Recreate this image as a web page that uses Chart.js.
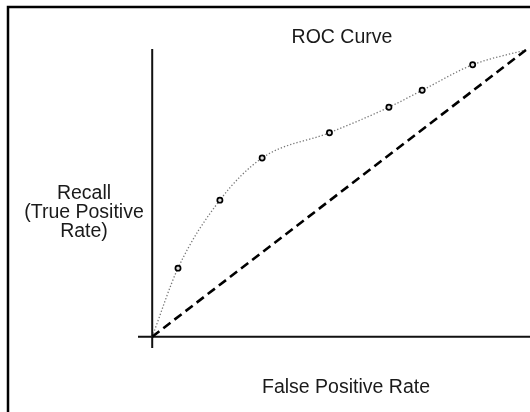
<!DOCTYPE html>
<html>
<head>
<meta charset="utf-8">
<script src="https://cdn.jsdelivr.net/npm/chart.js@4"></script>
<style>
  html, body { margin: 0; padding: 0; background: #fff; }
  #wrap { width: 530px; height: 412px; position: relative; }
</style>
</head>
<body>
<div id="wrap"><canvas id="roc" width="530" height="412"></canvas></div>
<script>
// valores
const fpr = [0, 0.069, 0.181, 0.294, 0.474, 0.633, 0.722, 0.857, 1];
const tpr = [0, 0.239, 0.476, 0.623, 0.711, 0.800, 0.859, 0.948, 1];
const azar = [0, 1];
const titulo = 'ROC Curve';
const tituloX = 'False Positive Rate';
const tituloY = ['Recall', '(True Positive', 'Rate)'];

const fuente = '19.5px "Liberation Sans", Arial, sans-serif';

// marco, ejes y textos
const decorado = {
  id: 'decorado',
  beforeDatasetsDraw(chart) {
    const ctx = chart.ctx;
    const xs = chart.scales.x, ys = chart.scales.y;
    const area = chart.chartArea;
    ctx.save();
    ctx.strokeStyle = '#000';
    ctx.lineWidth = 2.5;
    ctx.strokeRect(8, 7, 700, 600);

    ctx.strokeStyle = '#111';
    ctx.lineWidth = 2;
    const x0 = xs.getPixelForValue(0);
    const y0 = ys.getPixelForValue(0);
    ctx.beginPath();
    ctx.moveTo(x0, area.top);
    ctx.lineTo(x0, area.bottom);
    ctx.moveTo(area.left, y0);
    ctx.lineTo(area.right + 2, y0);
    ctx.stroke();

    ctx.fillStyle = '#1a1a1a';
    ctx.font = fuente;
    ctx.textAlign = 'center';
    ctx.textBaseline = 'alphabetic';
    ctx.fillText(titulo, 342, 43);
    ctx.fillText(tituloX, 346, 393);
    tituloY.forEach((t, i) => ctx.fillText(t, 84, 199 + i * 19));
    ctx.restore();
  }
};

const ctx = document.getElementById('roc');
new Chart(ctx, {
  type: 'line',
  data: {
    datasets: [
      {
        data: azar.map(v => ({ x: v, y: v })),
        borderColor: '#000',
        borderWidth: 2.6,
        borderDash: [9, 5],
        pointRadius: 0,
        fill: false
      },
      {
        data: fpr.map((v, i) => ({ x: v, y: tpr[i] })),
        borderColor: '#777',
        borderWidth: 1.3,
        borderDash: [1.3, 2],
        cubicInterpolationMode: 'monotone',
        pointRadius: fpr.map((v, i) => (i === 0 || i === fpr.length - 1) ? 0 : 2.6),
        pointBorderWidth: 1.7,
        pointBorderColor: '#000',
        pointBackgroundColor: '#ddd',
        fill: false
      }
    ]
  },
  options: {
    responsive: false,
    animation: false,
    layout: { padding: { left: 138, right: 2, top: 49, bottom: 64 } },
    plugins: { legend: { display: false }, tooltip: { enabled: false }, title: { display: false } },
    scales: {
      x: { type: 'linear', min: -0.038, max: 1.005, display: false },
      y: { type: 'linear', min: -0.0394, max: 1.003, display: false }
    }
  },
  plugins: [decorado]
});
</script>
</body>
</html>
